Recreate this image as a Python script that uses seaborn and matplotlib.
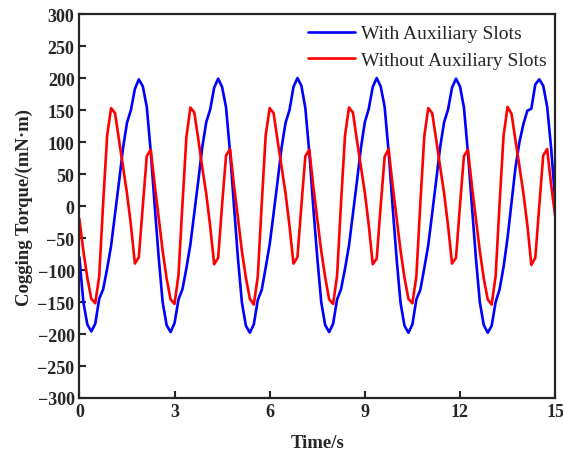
import numpy as np
import pandas as pd
import matplotlib
matplotlib.use("Agg")
import matplotlib.pyplot as plt
import seaborn as sns

# time grid, one sample every 0.125 s from 0 to 15 s
step = 0.125
time_s = np.arange(0, 15 + step / 2, step)

# cogging torque (mN·m)
with_slots = [
    -80, -150, -185, -196, -184, -145, -130, -98, -62, -12, 38, 90, 130, 150, 183, 198, 187, 155, 85, 0,
    -80, -150, -186, -197, -183, -146, -130, -97, -60, -10, 40, 92, 131, 151, 185, 199, 186, 154, 84, 0,
    -82, -151, -187, -198, -185, -147, -131, -96, -60, -11, 39, 91, 130, 150, 186, 200, 188, 153, 83, -2,
    -80, -150, -186, -197, -184, -146, -130, -98, -62, -12, 38, 90, 131, 152, 186, 200, 187, 155, 85, 0,
    -81, -151, -187, -198, -185, -146, -131, -97, -61, -11, 40, 92, 131, 151, 185, 199, 187, 154, 84, 1,
    -80, -150, -186, -198, -187, -150, -130, -95, -50, 5, 60, 100, 128, 149, 152, 190, 198, 188, 155, 90,
    10,
]
without_slots = [
    -20, -70, -112, -145, -152, -110, 5, 110, 153, 145, 103, 62, 20, -30, -90, -80, 0, 78, 88, 33,
    -18, -70, -113, -146, -153, -108, 3, 108, 154, 146, 104, 60, 19, -32, -91, -81, 2, 79, 89, 32,
    -19, -71, -112, -145, -154, -110, 4, 111, 153, 145, 102, 61, 20, -31, -90, -80, 1, 78, 88, 31,
    -20, -70, -111, -146, -153, -109, 5, 110, 154, 146, 103, 62, 21, -30, -91, -82, 0, 77, 89, 33,
    -18, -69, -112, -145, -152, -110, 4, 109, 153, 145, 104, 61, 20, -31, -90, -81, 1, 78, 88, 32,
    -19, -70, -113, -146, -154, -109, 5, 110, 155, 144, 103, 62, 20, -30, -92, -81, 0, 79, 89, 33,
    -15,
]
series_names = ["With Auxiliary Slots", "Without Auxiliary Slots"]
series_colors = ["#0000ff", "#ff0000"]

sns.set_style("ticks")
plt.rcParams["font.family"] = ["Liberation Serif", "DejaVu Serif"]

fig = plt.figure(figsize=(5.63, 4.56), dpi=100)
ax = fig.add_axes([0.141, 0.125, 0.845, 0.842])

for name, values, color in zip(series_names, [with_slots, without_slots], series_colors):
    sns.lineplot(x=time_s, y=values, ax=ax, color=color, linewidth=1.9, label=name)

ax.set_xlim(0, 15)
ax.set_ylim(-300, 300)
ax.set_xticks(np.arange(0, 16, 3))
ax.set_yticks(np.arange(-300, 301, 50))
ax.tick_params(direction="in", length=5, width=1.5, labelsize=13, top=False, right=False)
for lbl in ax.get_xticklabels() + ax.get_yticklabels():
    lbl.set_fontweight("bold")
for sp in ax.spines.values():
    sp.set_linewidth(1.6)
    sp.set_visible(True)

ax.set_xlabel("Time/s", fontsize=13.5, fontweight="bold", labelpad=10)
ax.set_ylabel("Cogging Torque/(mN·m)", fontsize=13.5, fontweight="bold", labelpad=3)

ax.legend(loc="upper right", bbox_to_anchor=(0.994, 0.987), frameon=False, fontsize=14,
          handlelength=2.4, handletextpad=0.3, labelspacing=0.45, borderaxespad=0.1, borderpad=0.2)

fig.savefig("out.png", dpi=100)
